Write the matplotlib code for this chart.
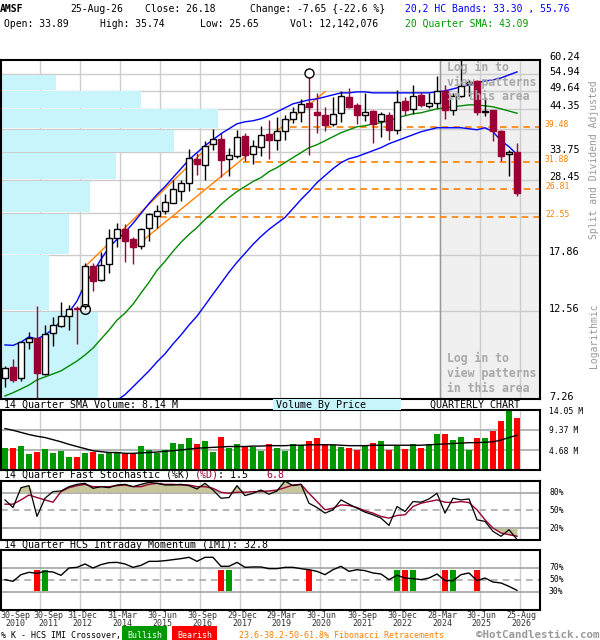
import matplotlib
matplotlib.use('Agg')
import matplotlib.pyplot as plt
import numpy as np
from matplotlib.transforms import offset_copy
from matplotlib.patches import Rectangle
from matplotlib.ticker import NullLocator

plt.rcParams['font.family'] = ['DejaVu Sans Mono', 'DejaVu Sans']

# ---------------- data (quarterly, 2010Q3 .. 2026Q3) ----------------
opens = [8.27, 8.85, 8.27, 10.34, 10.59, 8.49, 10.95, 11.46, 12.15, 12.82,
         12.98, 16.64, 15.25, 16.81, 19.85, 20.98, 19.63, 18.83, 21.11, 22.69,
         23.41, 24.66, 26.51, 27.92, 32.41, 31.28, 35.64, 36.70, 32.41, 32.94,
         37.46, 33.50, 34.84, 37.93, 36.43, 38.47, 41.55, 43.40, 46.07, 43.40,
         42.68, 40.28, 43.13, 47.64, 45.41, 42.50, 43.76, 40.94, 42.68, 38.71,
         46.56, 44.21, 48.33, 45.22, 46.07, 49.63, 44.03, 48.11, 51.64, 52.81,
         43.50, 43.84, 38.47, 33.37, 33.89]
highs = [8.94, 9.32, 10.36, 11.04, 12.98, 11.51, 12.08, 13.25, 13.06, 12.98,
         16.92, 16.99, 18.15, 20.98, 21.69, 21.55, 19.91, 21.13, 23.18, 24.40,
         25.97, 28.50, 28.50, 34.55, 33.65, 36.16, 39.05, 38.09, 34.71, 38.71,
         38.09, 36.54, 39.68, 41.37, 42.07, 42.68, 44.93, 47.05, 55.50, 48.83,
         44.93, 47.64, 49.54, 50.38, 46.07, 48.83, 44.03, 43.56, 43.56, 49.85,
         47.82, 51.42, 49.19, 49.01, 54.38, 51.42, 48.83, 62.00, 53.04, 53.04,
         47.82, 44.03, 38.71, 34.28, 35.74]
lows = [7.84, 8.07, 8.10, 9.91, 7.18, 8.45, 10.09, 11.37, 11.18, 10.23,
        12.75, 14.24, 15.15, 15.97, 18.77, 17.05, 16.89, 18.46, 19.43, 21.13,
        22.93, 24.56, 24.90, 26.51, 29.40, 28.50, 34.34, 28.91, 29.09, 32.61,
        31.93, 31.48, 32.94, 32.47, 34.34, 36.54, 40.54, 40.69, 33.28, 38.09,
        38.47, 39.68, 40.69, 44.50, 40.35, 40.94, 35.80, 37.15, 36.54, 37.93,
        42.68, 42.94, 44.93, 44.50, 44.50, 41.55, 42.50, 47.64, 48.11, 42.68,
        42.23, 36.16, 31.93, 29.15, 25.65]
closes = [8.80, 8.15, 10.34, 10.61, 8.54, 10.88, 11.53, 12.15, 12.72, 12.70,
          16.58, 15.15, 16.71, 19.85, 20.98, 19.43, 18.77, 20.89, 22.93, 23.41,
          24.81, 26.91, 27.92, 32.61, 31.42, 35.20, 36.70, 32.13, 33.22, 37.15,
          33.28, 35.20, 37.69, 36.54, 38.64, 41.55, 43.40, 45.70, 44.77, 42.50,
          40.11, 42.94, 48.02, 44.93, 42.50, 43.56, 40.35, 42.83, 38.71, 46.36,
          43.84, 48.11, 45.41, 45.90, 49.63, 43.84, 48.11, 51.19, 52.49, 43.56,
          43.70, 38.47, 33.08, 33.89, 26.18]

upper_band = [10.17, 10.14, 10.35, 10.69, 10.55, 10.82, 11.22, 11.80, 12.47, 13.36,
              14.85, 16.00, 17.34, 18.68, 19.63, 20.51, 21.69, 23.08, 24.55, 25.97,
              27.29, 28.86, 30.51, 32.27, 33.71, 35.20, 36.55, 37.93, 39.12, 40.35,
              40.86, 41.12, 41.63, 42.42, 43.48, 44.57, 45.70, 46.27, 46.84, 47.14,
              47.73, 48.33, 48.93, 48.93, 49.23, 49.23, 48.93, 48.93, 48.93, 48.93,
              48.93, 48.93, 48.93, 48.93, 49.23, 49.54, 50.16, 50.79, 51.42, 52.07,
              52.71, 53.04, 53.70, 54.72, 55.76]
lower_band = [None, None, None, None, None, None, None, None, None, None,
              None, None, None, None, 7.20, 7.46, 7.83, 8.23, 8.65, 9.15,
              9.62, 10.23, 10.82, 11.51, 12.17, 13.03, 13.96, 14.94, 16.00, 17.02,
              18.00, 19.03, 20.00, 20.90, 21.70, 22.51, 23.80, 25.17, 26.46, 27.97,
              29.22, 30.51, 31.68, 32.47, 32.88, 33.50, 34.13, 34.77, 35.64, 36.31,
              37.00, 37.69, 38.40, 38.88, 39.37, 39.37, 39.37, 39.37, 39.12, 38.88,
              39.37, 38.40, 36.31, 34.99, 33.30]
sma20 = [7.40, 7.55, 7.73, 7.92, 8.18, 8.33, 8.49, 8.65, 8.92, 9.20,
         9.55, 9.97, 10.55, 11.15, 11.87, 12.40, 13.11, 14.05, 15.03, 16.19,
         17.12, 18.22, 19.28, 20.25, 21.13, 22.23, 23.22, 24.40, 25.48, 26.46,
         27.29, 28.16, 28.86, 29.95, 30.71, 31.68, 32.68, 33.71, 34.77, 35.42,
         36.31, 37.23, 38.17, 38.88, 39.61, 39.86, 40.35, 40.61, 41.12, 41.89,
         42.42, 42.94, 43.22, 43.76, 44.29, 44.57, 44.85, 45.13, 45.41, 45.41,
         45.13, 44.85, 44.29, 43.70, 43.09]

volumes = [5.23, 5.23, 5.62, 3.74, 4.21, 4.91, 3.98, 4.45, 3.04, 3.04,
           3.98, 4.21, 3.74, 4.13, 4.13, 3.82, 3.82, 5.62, 4.68, 4.06,
           4.68, 6.32, 6.08, 7.49, 6.08, 6.79, 4.21, 7.72, 5.23, 6.08,
           5.62, 5.38, 4.45, 6.01, 5.15, 4.45, 6.01, 5.77, 6.79, 7.49,
           6.01, 5.77, 5.38, 5.15, 4.68, 5.85, 6.32, 6.79, 4.68, 5.62,
           4.91, 6.08, 5.15, 6.08, 8.42, 8.42, 7.02, 7.72, 4.68, 7.49,
           7.49, 9.13, 11.54, 14.30, 12.14]
vol_sma = [9.7, 9.3, 8.8, 8.3, 7.9, 7.6, 7.1, 6.6, 6.0, 5.5,
           5.0, 4.5, 4.3, 4.1, 4.1, 3.9, 3.9, 4.0, 4.1, 4.2,
           4.4, 4.5, 4.7, 4.9, 5.1, 5.2, 5.3, 5.4, 5.5, 5.5,
           5.5, 5.6, 5.6, 5.7, 5.7, 5.7, 5.8, 5.8, 5.9, 5.9,
           5.9, 5.9, 5.8, 5.7, 5.7, 5.7, 5.8, 5.8, 5.8, 5.8,
           5.8, 5.8, 5.8, 5.9, 6.0, 6.1, 6.2, 6.3, 6.4, 6.4,
           6.5, 6.6, 7.0, 7.6, 8.14]

stoch_k = [67.8, 55.0, 88.3, 91.7, 40.0, 70.6, 81.7, 82.8, 90.0, 93.9,
           95.6, 87.2, 90.0, 88.3, 92.8, 93.9, 90.0, 93.9, 97.2, 95.6,
           92.8, 92.8, 93.9, 91.7, 86.1, 95.6, 84.4, 70.6, 71.7, 91.7,
           75.0, 78.9, 84.4, 77.2, 82.8, 99.4, 91.7, 93.9, 62.2, 55.0,
           45.6, 51.1, 67.8, 60.6, 53.9, 47.2, 42.8, 37.2, 25.0, 56.7,
           48.3, 65.0, 63.9, 69.4, 78.9, 45.6, 70.6, 67.8, 69.4, 34.4,
           31.7, 15.0, 6.7, 17.8, 1.5]
stoch_d = [60.6, 60.6, 67.8, 76.1, 71.7, 67.8, 63.9, 81.7, 88.3, 91.7,
           93.9, 90.0, 90.0, 90.0, 91.7, 92.8, 90.0, 90.0, 93.9, 95.6,
           93.9, 93.9, 92.8, 92.8, 90.0, 90.0, 87.2, 80.6, 78.9, 80.6,
           80.6, 81.7, 81.7, 82.8, 84.4, 88.3, 92.8, 93.9, 78.9, 65.0,
           51.1, 53.9, 59.4, 58.3, 55.0, 49.4, 45.6, 40.0, 37.2, 41.7,
           42.8, 56.7, 62.2, 65.0, 67.8, 63.9, 63.3, 65.0, 63.3, 51.1,
           34.4, 20.6, 12.2, 9.4, 6.8]
imi = [50.6, 47.8, 58.9, 62.8, 61.1, 64.4, 63.3, 57.8, 70.0, 71.1,
       76.7, 70.0, 75.6, 78.9, 79.4, 76.7, 71.1, 74.4, 81.1, 81.1,
       82.2, 83.9, 85.6, 87.8, 81.1, 87.8, 87.8, 72.8, 72.8, 79.4,
       71.1, 71.7, 71.7, 68.9, 68.9, 71.1, 71.1, 68.9, 67.2, 64.4,
       58.9, 67.2, 72.8, 64.4, 67.2, 65.6, 61.7, 60.0, 50.6, 57.8,
       53.3, 52.2, 50.6, 53.3, 60.0, 48.9, 48.9, 58.9, 61.7, 48.9,
       53.3, 46.7, 45.0, 39.4, 32.8]
bull_cross = [5, 28, 49, 51, 56]
bear_cross = [4, 27, 38, 50, 55, 59]

# volume by price: price bins and relative volume
vbp_edges = [7.26, 12.56, 17.86, 23.16, 28.45, 33.75, 39.05, 44.35, 49.64, 54.94, 60.24]
vbp_values = [97, 48, 68, 89, 115, 173, 217, 140, 55, 0]

# Fibonacci retracement levels and trend lines
fib_levels = [39.48, 31.88, 26.81, 22.55]
fib_start = [35.6, 29.75, 24.0, 19.4]
fan_x = [[9.79, 25.84], [16.04, 40.0]]
fan_y = [[16.40, 35.74], [18.58, 49.29]]

price_labels = [60.24, 54.94, 49.64, 44.35, 33.75, 28.45, 17.86, 12.56, 7.26]
price_grid = [12.56, 17.86, 23.16, 28.45, 33.75, 39.05, 44.35, 49.64, 54.94]
vol_grid = [4.68, 9.37]
vol_labels = [14.05, 9.37, 4.68]

date_pos = [1.25, 5.375, 9.625, 14.625, 19.625, 24.625, 29.625, 34.5, 39.5,
            44.625, 49.625, 54.625, 59.5, 64.5]
date_labels = ['30-Sep\n2010', '30-Sep\n2011', '31-Dec\n2012', '31-Mar\n2014',
               '30-Jun\n2015', '30-Sep\n2016', '29-Dec\n2017', '29-Mar\n2019',
               '30-Jun\n2020', '30-Sep\n2021', '30-Dec\n2022', '28-Mar\n2024',
               '30-Jun\n2025', '25-Aug\n2026']
vgrid = [4.375, 9.375, 14.375, 19.375, 24.375, 29.375, 34.375, 39.375,
         44.375, 49.375, 54.375, 59.375, 64.375]
gray_start = 54.375

# ---------------- layout ----------------
W, H = 600, 640
fig = plt.figure(figsize=(6, 6.4), dpi=100)
fig.patch.set_facecolor('white')


def box(x0, y0, x1, y1):
    return [x0 / W, 1 - y1 / H, (x1 - x0) / W, (y1 - y0) / H]


def ftext(x, y, s, **kw):
    kw.setdefault('va', 'center')
    kw.setdefault('ha', 'left')
    return fig.text(x / W, 1 - y / H, s, **kw)


XMIN, XMAX = -0.5, 66.875
n = len(closes)
idx = np.arange(n)
RED = '#990033'
GRID = '#cccccc'


def style_axes(a):
    a.set_xlim(XMIN, XMAX)
    a.set_xticks([])
    a.yaxis.set_major_locator(NullLocator())
    a.yaxis.set_minor_locator(NullLocator())
    for s in a.spines.values():
        s.set_linewidth(1.5)
        s.set_color('black')
    for xv in vgrid:
        a.axvline(xv, color=GRID, lw=1, zorder=0.5)


# ---------------- main price panel ----------------
ax = fig.add_axes(box(1, 59.5, 540, 399))
ax.set_yscale('log')
ax.set_ylim(7.26, 60.24)
style_axes(ax)
ax.axvspan(gray_start, XMAX, color='#f0f0f0', zorder=0)
for yv in price_grid:
    ax.axhline(yv, color=GRID, lw=1, zorder=0.5)

ytr = ax.get_yaxis_transform()
vmax = max(vbp_values)
for lo, hi, v in zip(vbp_edges[:-1], vbp_edges[1:], vbp_values):
    if v > 0:
        ax.add_patch(Rectangle((0, lo * 1.005), v / vmax * 0.402, hi / 1.005 - lo * 1.005,
                               transform=ytr, facecolor='#c8f4fc', lw=0, zorder=0.8))
ax.axvline(gray_start, color='#999999', lw=1, zorder=0.9)

for lvl, st in zip(fib_levels, fib_start):
    ax.plot([st, XMAX], [lvl, lvl], color='#ff8000', lw=1.2, ls=(0, (4, 3)), zorder=1.5)
for fxs, fys in zip(fan_x, fan_y):
    ax.plot(fxs, fys, color='#ff8000', lw=1, zorder=1.5)

ax.plot(idx, upper_band, color='#0000ff', lw=1, zorder=2)
ax.plot(idx, np.array(lower_band, dtype=float), color='#0000ff', lw=1, zorder=2)
ax.plot(idx, sma20, color='#008800', lw=1, zorder=2)

o = np.array(opens); c = np.array(closes)
up = c >= o
for i in range(n):
    ax.vlines(i, lows[i], highs[i], color='black' if up[i] else RED, lw=1, zorder=2.5)
bottoms = np.minimum(o, c)
heights = np.abs(c - o)
ax.bar(idx, heights, bottom=bottoms, width=0.66,
       color=['white' if u else RED for u in up],
       edgecolor=['black' if u else RED for u in up], lw=1, zorder=3)

ax.plot([10], [lows[10]], 'o', ms=7, mfc='none', mec='black', mew=1, zorder=3.5)
ax.plot([38], [highs[38]], 'o', ms=6.5, mfc='white', mec='black', mew=1, zorder=3.5)

# right-hand labels
lab_tr = offset_copy(ytr, fig=fig, x=0, y=2.5, units='dots')
for v in price_labels:
    ax.text(1.0167, v, f'{v:.2f}', transform=lab_tr, fontsize=7.4, va='center',
            ha='left', clip_on=False)
for v in fib_levels:
    ax.text(1.0093, v, f'{v:.2f}', transform=lab_tr, fontsize=5.8, va='center',
            ha='left', color='#ff8000', clip_on=False)

for yy, s in zip([67, 82, 97], ['Log in to', 'view patterns', 'in this area']):
    ftext(447, yy, s, fontsize=8.3, fontweight='bold', color='#a8a8a8', zorder=5)
for yy, s in zip([358, 373, 388], ['Log in to', 'view patterns', 'in this area']):
    ftext(447, yy, s, fontsize=8.3, fontweight='bold', color='#a8a8a8', zorder=5)

ftext(594, 160, 'Split and Dividend Adjusted', rotation=90, ha='center',
      fontsize=7, color='#999999')
ftext(594, 336, 'Logarithmic', rotation=90, ha='center', fontsize=7, color='#999999')

# header
ftext(0, 9.3, 'AMSF', fontsize=7, fontweight='bold')
ftext(70, 9.3, '25-Aug-26', fontsize=7)
ftext(145, 9.3, 'Close: 26.18', fontsize=7)
ftext(250, 9.3, 'Change: -7.65 {-22.6 %}', fontsize=7)
ftext(405, 9.3, '20,2 HC Bands: 33.30 , 55.76', fontsize=7, color='#0000ff')
ftext(4.5, 24, 'Open: 33.89', fontsize=7)
ftext(99.5, 24, 'High: 35.74', fontsize=7)
ftext(200, 24, 'Low: 25.65', fontsize=7)
ftext(290, 24, 'Vol: 12,142,076', fontsize=7)
ftext(405, 24, '20 Quarter SMA: 43.09', fontsize=7, color='#009900')

# ---------------- volume panel ----------------
axv = fig.add_axes(box(1, 410, 540, 470))
axv.set_ylim(0, 14.05)
style_axes(axv)
for yv in vol_grid:
    axv.axhline(yv, color='#aaaaaa', lw=1.2, zorder=0.6)
prev = [closes[0] - 1] + closes[:-1]
vcol = ['#009900' if cc >= pp else '#ff0000' for cc, pp in zip(closes, prev)]
axv.bar(idx, volumes, width=0.72, color=vcol, zorder=2)
axv.plot(idx, vol_sma, color='black', lw=1, zorder=3)
for v in vol_labels:
    axv.text(1.0167, v, f'{v:.2f} M', transform=offset_copy(axv.get_yaxis_transform(), fig=fig,
             x=0, y=-1, units='dots'), fontsize=5.8, va='center', ha='left', clip_on=False)

ftext(4, 405, '14 Quarter SMA Volume: 8.14 M', fontsize=7.2)
fig.patches.append(Rectangle((273 / W, 1 - 410 / H), 128 / W, 11 / H, transform=fig.transFigure,
                             facecolor='#c8f4fc', lw=0, zorder=0))
ftext(275.5, 405, 'Volume By Price', fontsize=7.2)
ftext(430, 405, 'QUARTERLY CHART', fontsize=7.2)

# ---------------- stochastic panel ----------------
axs = fig.add_axes(box(1, 480.7, 540, 540.3))
axs.set_ylim(0, 100)
style_axes(axs)
axs.axhline(80, color='#aaaaaa', lw=1.3, zorder=0.6)
axs.axhline(20, color='#aaaaaa', lw=1.3, zorder=0.6)
axs.axhline(50, color='#aaaaaa', lw=1.2, ls=(0, (4, 3)), zorder=0.6)
k = np.array(stoch_k); d = np.array(stoch_d)
top = np.maximum(k, d)
axs.fill_between(idx, 80, top, where=top > 80, interpolate=True, color='#c9c59b', lw=0, zorder=1)
axs.fill_between(idx, 20, d, where=d < 20, interpolate=True, color='#c9c59b', lw=0, zorder=1)
axs.plot(idx, stoch_k, color='black', lw=0.9, zorder=3)
axs.plot(idx, stoch_d, color=RED, lw=1, zorder=2.5)
for v in [80, 50, 20]:
    axs.text(1.0167, v, f'{v}%', transform=axs.get_yaxis_transform(), fontsize=5.8,
             va='center', ha='left', clip_on=False)
ftext(4, 474.7, '14 Quarter Fast Stochastic (%K)', fontsize=7.2)
ftext(195, 474.7, '(%D)', fontsize=7.2, color=RED)
ftext(218, 474.7, ': 1.5', fontsize=7.2)
ftext(266, 474.7, '6.8', fontsize=7.2, color=RED)

# ---------------- IMI panel ----------------
axi = fig.add_axes(box(1, 550, 540, 610))
axi.set_ylim(0, 100)
style_axes(axi)
axi.axhline(70, color='#aaaaaa', lw=1.3, zorder=0.6)
axi.axhline(30, color='#aaaaaa', lw=1.3, zorder=0.6)
axi.axhline(50, color='#aaaaaa', lw=1.2, ls=(0, (4, 3)), zorder=0.6)
axi.bar(bull_cross, 34.7, bottom=32, width=0.72, color='#009900', zorder=2)
axi.bar(bear_cross, 34.7, bottom=32, width=0.72, color='#ff0000', zorder=2)
axi.plot(idx, imi, color='black', lw=1, zorder=3)
for v in [70, 50, 30]:
    axi.text(1.0167, v, f'{v}%', transform=axi.get_yaxis_transform(), fontsize=5.8,
             va='center', ha='left', clip_on=False)
ftext(4, 545, '14 Quarter HCS Intraday Momentum (IMI): 32.8', fontsize=7.2)

axi.set_xticks(date_pos)
axi.set_xticklabels(date_labels, fontsize=6, color='#333333', linespacing=0.85)
axi.tick_params(axis='x', length=0, pad=0.8)

# ---------------- footer ----------------
ftext(1, 635.5, '% K - HCS IMI Crossover,', fontsize=6)
ftext(127, 635.5, 'Bullish', fontsize=6, color='white',
      bbox=dict(facecolor='#009900', edgecolor='none', pad=0.6, boxstyle='square'))
ftext(177, 635.5, 'Bearish', fontsize=6, color='white',
      bbox=dict(facecolor='#ff0000', edgecolor='none', pad=0.6, boxstyle='square'))
ftext(239, 635.5, '23.6-38.2-50-61.8% Fibonacci Retracements', fontsize=6, color='#ff8000')
ftext(600, 635, '\u00a9HotCandlestick.com', fontsize=7.8, fontweight='bold',
      color='#999999', ha='right')

fig.savefig('out.png', dpi=100, facecolor='white')
